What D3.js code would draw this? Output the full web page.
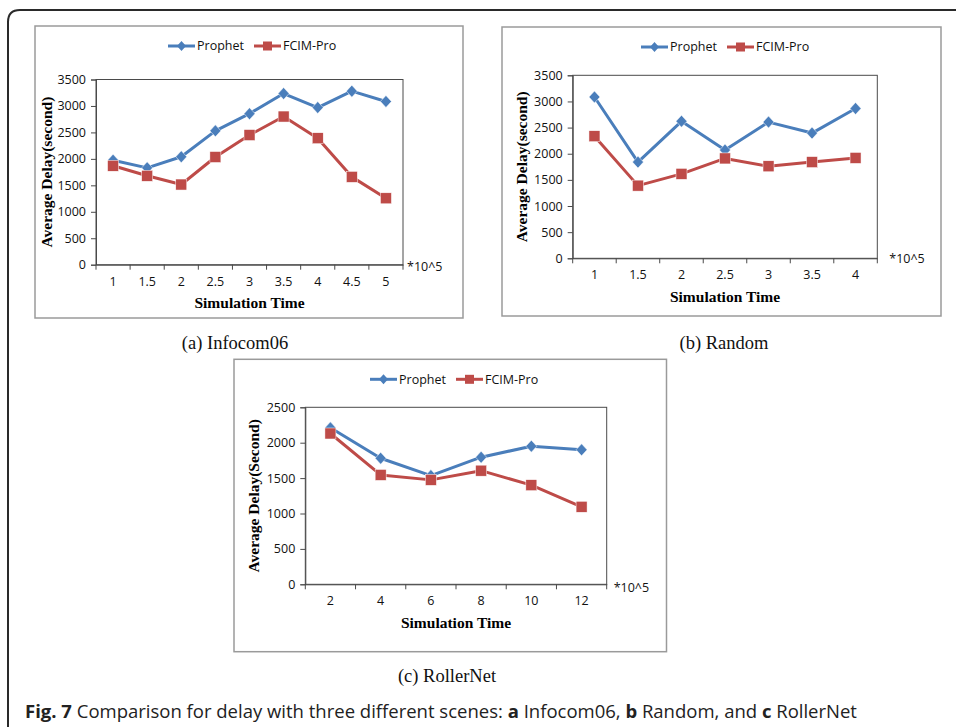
<!DOCTYPE html>
<html>
<head>
<meta charset="utf-8">
<script src="https://cdn.jsdelivr.net/npm/d3@7/dist/d3.min.js"></script>
<style>
  html, body { margin: 0; padding: 0; background: #fff; }
  svg { display: block; }
</style>
</head>
<body>
<svg id="fig" width="956" height="727"></svg>
<script>
// ---------------- DATA ----------------
const seriesNames = ["Prophet", "FCIM-Pro"];

const catsA = ["1", "1.5", "2", "2.5", "3", "3.5", "4", "4.5", "5"];
const prophetA = [1975, 1830, 2040, 2530, 2855, 3235, 2970, 3280, 3085];
const fcimA = [1870, 1680, 1515, 2035, 2450, 2800, 2390, 1660, 1255];
const yTicksA = [0, 500, 1000, 1500, 2000, 2500, 3000, 3500];

const catsB = ["1", "1.5", "2", "2.5", "3", "3.5", "4"];
const prophetB = [3085, 1840, 2620, 2070, 2605, 2395, 2865];
const fcimB = [2335, 1390, 1615, 1910, 1760, 1840, 1920];
const yTicksB = [0, 500, 1000, 1500, 2000, 2500, 3000, 3500];

const catsC = ["2", "4", "6", "8", "10", "12"];
const prophetC = [2210, 1780, 1535, 1795, 1950, 1900];
const fcimC = [2130, 1545, 1475, 1605, 1400, 1095];
const yTicksC = [0, 500, 1000, 1500, 2000, 2500];

const yTitleA = "Average Delay(second)";
const yTitleB = "Average Delay(second)";
const yTitleC = "Average Delay(Second)";
const xTitle = "Simulation Time";
const unitLabel = "*10^5";
const captionA = "(a) Infocom06";
const captionB = "(b) Random";
const captionC = "(c) RollerNet";

// ---------------- STYLE ----------------
const BLUE = "#4A7EBB";
const RED = "#BE4B48";
const tickFont = "'Open Sans', 'Noto Sans', sans-serif";
const serif = "'Liberation Serif', 'DejaVu Serif', serif";
const TICK_FS = 12.5;

const svg = d3.select("#fig");

// outer rounded frame
svg.append("path")
  .attr("d", "M8,740 L8,22 Q8,10 20,10 L970,10")
  .attr("fill", "none")
  .attr("stroke", "#2a2a2a")
  .attr("stroke-width", 2);

function diamondPath(w, h) {
  return `M0,${-h / 2}L${w / 2},0L0,${h / 2}L${-w / 2},0Z`;
}

function drawChart(cfg) {
  const g = svg.append("g");
  g.append("rect")
    .attr("x", cfg.box[0]).attr("y", cfg.box[1])
    .attr("width", cfg.box[2]).attr("height", cfg.box[3])
    .attr("fill", "#fff").attr("stroke", "#9a9a9a").attr("stroke-width", 1.5);

  const p = cfg.plot;
  const x = d3.scaleBand().domain(cfg.cats).range([p.l, p.r]);
  const y = d3.scaleLinear().domain([0, cfg.yMax]).range([p.b, p.t]);

  g.append("rect")
    .attr("x", p.l).attr("y", p.t)
    .attr("width", p.r - p.l).attr("height", p.b - p.t)
    .attr("fill", "none").attr("stroke", "#4a4a4a").attr("stroke-width", 1);

  const yAx = g.append("g").attr("transform", `translate(${p.l},0)`)
    .call(d3.axisLeft(y).tickValues(cfg.yTicks).tickSize(5).tickPadding(5).tickFormat(d3.format("d")));
  yAx.select(".domain").attr("stroke", "#4a4a4a");
  yAx.selectAll(".tick line").attr("stroke", "#4a4a4a");
  yAx.selectAll("text").attr("font-family", tickFont).attr("font-size", TICK_FS).attr("fill", "#111");

  const xAx = g.append("g").attr("transform", `translate(0,${p.b})`)
    .call(d3.axisBottom(x).tickSize(0).tickPadding(12));
  xAx.select(".domain").attr("stroke", "#4a4a4a");
  xAx.selectAll("text").attr("font-family", tickFont).attr("font-size", TICK_FS).attr("fill", "#111");
  const bounds = cfg.cats.map(c => x(c)).concat([p.r]);
  g.selectAll(null).data(bounds).enter().append("line")
    .attr("x1", d => d).attr("x2", d => d)
    .attr("y1", p.b).attr("y2", p.b + 5)
    .attr("stroke", "#4a4a4a");

  const cx = c => x(c) + x.bandwidth() / 2;
  const line = d3.line().x((d, i) => cx(cfg.cats[i])).y(d => y(d));

  const series = [
    { vals: cfg.s1, color: BLUE, shape: "diamond" },
    { vals: cfg.s2, color: RED, shape: "square" }
  ];
  series.forEach(s => {
    g.append("path").datum(s.vals).attr("d", line)
      .attr("fill", "none").attr("stroke", s.color).attr("stroke-width", 3)
      .attr("stroke-linejoin", "round");
  });
  series.forEach(s => {
    s.vals.forEach((v, i) => {
      const px = cx(cfg.cats[i]), py = y(v);
      if (s.shape === "diamond") {
        g.append("path").attr("d", diamondPath(11, 12)).attr("transform", `translate(${px},${py})`)
          .attr("fill", s.color).attr("stroke", "#fff").attr("stroke-width", 0.5);
      } else {
        g.append("rect").attr("x", px - 5.5).attr("y", py - 5.5).attr("width", 11).attr("height", 11)
          .attr("fill", s.color).attr("stroke", "#fff").attr("stroke-width", 0.5);
      }
    });
  });

  // legend
  const lg = g.append("g");
  const lx = cfg.legendX, ly = cfg.legendY;
  const items = [
    { name: seriesNames[0], color: BLUE, shape: "diamond", x0: lx },
    { name: seriesNames[1], color: RED, shape: "square", x0: lx + 86 }
  ];
  items.forEach(it => {
    lg.append("line").attr("x1", it.x0).attr("x2", it.x0 + 27).attr("y1", ly).attr("y2", ly)
      .attr("stroke", it.color).attr("stroke-width", 3);
    if (it.shape === "diamond") {
      lg.append("path").attr("d", diamondPath(9, 10))
        .attr("transform", `translate(${it.x0 + 13.5},${ly})`).attr("fill", it.color);
    } else {
      lg.append("rect").attr("x", it.x0 + 9).attr("y", ly - 4.5).attr("width", 9).attr("height", 9)
        .attr("fill", it.color);
    }
    lg.append("text").attr("x", it.x0 + 29).attr("y", ly).attr("dy", "0.35em")
      .attr("font-family", tickFont).attr("font-size", TICK_FS).attr("fill", "#111").text(it.name);
  });

  const pcx = (p.l + p.r) / 2, pcy = (p.t + p.b) / 2;
  g.append("text").attr("transform", `translate(${cfg.yTitleX},${pcy}) rotate(-90)`)
    .attr("text-anchor", "middle").attr("dy", "0.35em")
    .attr("font-family", serif).attr("font-weight", "bold").attr("font-size", 15.5)
    .attr("fill", "#000").text(cfg.yTitle);
  g.append("text").attr("x", pcx).attr("y", p.b + 38).attr("dy", "0.35em")
    .attr("text-anchor", "middle")
    .attr("font-family", serif).attr("font-weight", "bold").attr("font-size", 15.5)
    .attr("fill", "#000").text(xTitle);
  g.append("text").attr("x", p.r + cfg.unitDx).attr("y", p.b + cfg.unitDy).attr("dy", "0.35em")
    .attr("font-family", tickFont).attr("font-size", TICK_FS).attr("fill", "#111").text(unitLabel);

  g.append("text").attr("x", cfg.capX).attr("y", cfg.capY).attr("dy", "0.35em")
    .attr("text-anchor", "middle").attr("font-family", serif).attr("font-size", 18.5)
    .attr("fill", "#111").text(cfg.caption);
}

drawChart({
  box: [35, 26, 428, 292],
  plot: { l: 96, t: 79.5, r: 403, b: 264.7 },
  cats: catsA, s1: prophetA, s2: fcimA, yTicks: yTicksA, yMax: 3500,
  legendX: 168, legendY: 46, yTitleX: 47, yTitle: yTitleA,
  unitDx: 4, unitDy: 2, caption: captionA, capX: 235, capY: 343
});
drawChart({
  box: [502, 27, 439, 289],
  plot: { l: 572.7, t: 75.3, r: 877.3, b: 258.3 },
  cats: catsB, s1: prophetB, s2: fcimB, yTicks: yTicksB, yMax: 3500,
  legendX: 641, legendY: 47, yTitleX: 521.7, yTitle: yTitleB,
  unitDx: 12, unitDy: 0, caption: captionB, capX: 724, capY: 343
});
drawChart({
  box: [234, 359.3, 432.5, 292.4],
  plot: { l: 305.3, t: 407.3, r: 606.7, b: 584.3 },
  cats: catsC, s1: prophetC, s2: fcimC, yTicks: yTicksC, yMax: 2500,
  legendX: 370, legendY: 379.3, yTitleX: 254, yTitle: yTitleC,
  unitDx: 7, unitDy: 3, caption: captionC, capX: 447, capY: 676
});

// figure caption
const cap = svg.append("text").attr("x", 25).attr("y", 712).attr("dy", "0.35em")
  .attr("font-family", "'Open Sans', 'Noto Sans', sans-serif").attr("font-size", 18.5)
  .attr("fill", "#222");
const parts = [
  ["Fig. 7", true], [" Comparison for delay with three different scenes: ", false],
  ["a", true], [" Infocom06, ", false], ["b", true], [" Random, and ", false],
  ["c", true], [" RollerNet", false]
];
parts.forEach(([t, b]) => {
  cap.append("tspan").attr("font-weight", b ? 700 : 400).text(t);
});
</script>
</body>
</html>
